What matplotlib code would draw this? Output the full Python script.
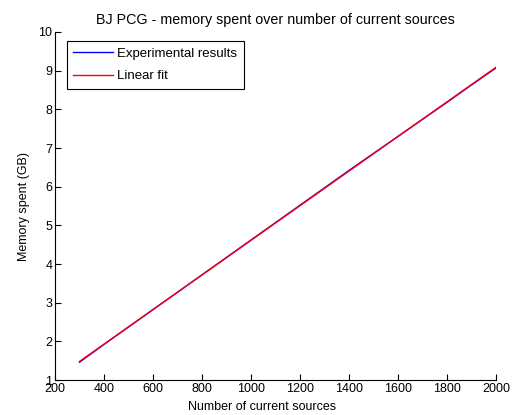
import numpy as np
import matplotlib
matplotlib.use('Agg')
import matplotlib.pyplot as plt

plt.rcParams['font.family'] = ['Liberation Sans', 'DejaVu Sans']

# 电流源数目 与 内存消耗 (GB)
sources = np.array([300, 400, 500, 600, 700, 800, 900, 1000, 1100, 1200,
                    1300, 1400, 1500, 1600, 1700, 1800, 1900, 2000])
memory = np.array([1.46, 1.92, 2.37, 2.82, 3.27, 3.72, 4.17, 4.62, 5.07, 5.52,
                   5.97, 6.42, 6.86, 7.30, 7.74, 8.18, 8.63, 9.07])

# 线性拟合
coef = np.polyfit(sources, memory, 1)
fit = np.polyval(coef, sources)

fig = plt.figure(figsize=(5.12, 4.15), dpi=100)
ax = fig.add_axes([0.1074, 0.0843, 0.8613, 0.8386])

ax.plot(sources, memory, color='#0000ff', lw=1.0, label='Experimental results')
ax.plot(sources, fit, color='#ff0000', lw=1.0, label='Linear fit')

ax.set_xlim(200, 2000)
ax.set_ylim(1, 10)
ax.set_xticks(np.arange(200, 2001, 200))
ax.set_yticks(np.arange(1, 11, 1))
ax.spines['top'].set_visible(False)
ax.spines['right'].set_visible(False)
ax.spines['left'].set_linewidth(0.8)
ax.spines['bottom'].set_linewidth(0.8)
ax.tick_params(direction='in', length=4, labelsize=9, width=0.8, pad=2)

ax.set_xlabel('Number of current sources', fontsize=9)
ax.xaxis.set_label_coords(0.47, -0.06)
ax.set_ylabel('Memory spent (GB)', fontsize=9, labelpad=6)
ax.set_title('BJ PCG - memory spent over number of current sources', fontsize=10.3, pad=6)

leg = ax.legend(loc='upper left', fontsize=9.5, fancybox=False, framealpha=1,
                edgecolor='black', bbox_to_anchor=(0.027, 0.975), borderaxespad=0,
                handlelength=3.0, labelspacing=0.8, borderpad=0.5, handletextpad=0.3)
leg.get_frame().set_linewidth(0.8)

fig.savefig('out.png', dpi=100)
